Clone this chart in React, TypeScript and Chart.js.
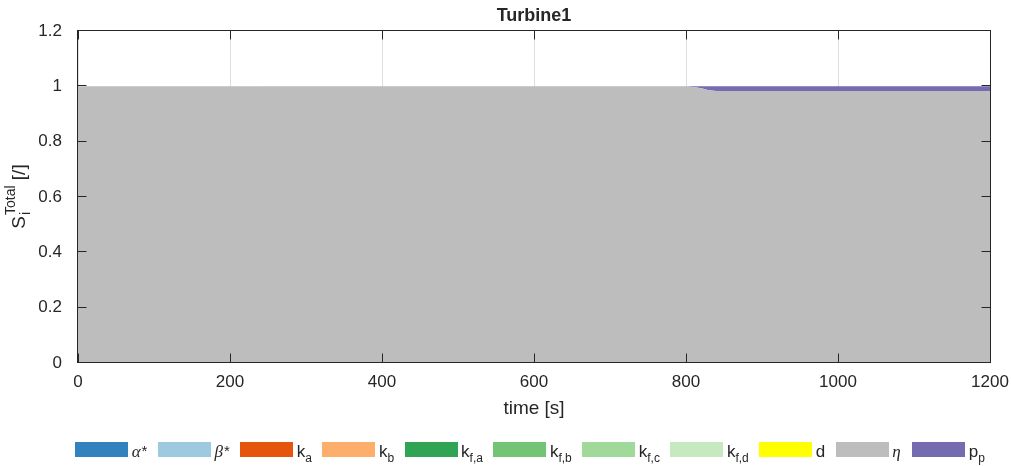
import React, { useEffect, useRef } from 'react';
import { Chart, registerables } from 'chart.js';

Chart.register(...registerables);

// ---- data ----
const time = [0, 100, 200, 250, 300, 400, 500, 600, 700, 800, 810, 820, 830, 840, 850, 900, 1000, 1100, 1200];
const alphaStar = [0, 0, 0, 0, 0, 0, 0, 0, 0, 0, 0, 0, 0, 0, 0, 0, 0, 0, 0];
const betaStar = [0, 0, 0, 0, 0, 0, 0, 0, 0, 0, 0, 0, 0, 0, 0, 0, 0, 0, 0];
const kA = [0, 0, 0, 0, 0, 0, 0, 0, 0, 0, 0, 0, 0, 0, 0, 0, 0, 0, 0];
const kB = [0, 0, 0, 0, 0, 0, 0, 0, 0, 0, 0, 0, 0, 0, 0, 0, 0, 0, 0];
const kFA = [0, 0, 0, 0, 0, 0, 0, 0, 0, 0, 0, 0, 0, 0, 0, 0, 0, 0, 0];
const kFB = [0, 0, 0, 0, 0, 0, 0, 0, 0, 0, 0, 0, 0, 0, 0, 0, 0, 0, 0];
const kFC = [0, 0, 0, 0, 0, 0, 0, 0, 0, 0, 0, 0, 0, 0, 0, 0, 0, 0, 0];
const kFD = [0, 0, 0, 0, 0, 0, 0, 0, 0, 0, 0, 0, 0, 0, 0, 0, 0, 0, 0];
const dVals = [0, 0, 0, 0, 0, 0, 0, 0, 0, 0, 0, 0, 0, 0, 0, 0, 0, 0, 0];
const eta = [1, 1, 1, 0.999, 0.999, 0.999, 0.999, 0.999, 0.999, 0.999, 0.998, 0.993, 0.986, 0.983, 0.983, 0.983, 0.983, 0.983, 0.983];
const pP = [0, 0, 0, 0.001, 0.001, 0.001, 0.001, 0.001, 0.001, 0.001, 0.002, 0.007, 0.014, 0.017, 0.017, 0.017, 0.017, 0.017, 0.017];

const seriesValues = [alphaStar, betaStar, kA, kB, kFA, kFB, kFC, kFD, dVals, eta, pP];
const seriesLabels = ['α*', 'β*', 'k_a', 'k_b', 'k_f,a', 'k_f,b', 'k_f,c', 'k_f,d', 'd', 'η', 'p_p'];
const seriesColors = ['#3182bd', '#9ecae1', '#e6550d', '#fdae6b', '#31a354', '#74c476', '#a1d99b', '#c7e9c0', '#ffff00', '#bdbdbd', '#756bb1'];

const xTicks = [0, 200, 400, 600, 800, 1000, 1200];
const yTicks = [0, 0.2, 0.4, 0.6, 0.8, 1, 1.2];
const titleText = 'Turbine1';
const xLabelText = 'time [s]';
const yLabelMain = 'S';
const yLabelSub = 'i';
const yLabelSup = 'Total';
const yLabelTail = ' [/]';

const SANS = '"Liberation Sans", Arial, Helvetica, sans-serif';
const SERIF = '"Liberation Serif", "Times New Roman", serif';
const TEXT = '#262626';

function drawLegendLabel(ctx: CanvasRenderingContext2D, label: string, x: number, baseline: number, draw: boolean): number {
  let w = 0;
  const greek = /^[αβη]/.test(label);
  if (greek) {
    ctx.font = `italic 17px ${SERIF}`;
    const g = label[0];
    if (draw) ctx.fillText(g, x, baseline);
    w += ctx.measureText(g).width + 1;
    const rest = label.slice(1);
    if (rest) {
      ctx.font = `15px ${SANS}`;
      if (draw) ctx.fillText(rest, x + w, baseline - 1);
      w += ctx.measureText(rest).width;
    }
    return w;
  }
  const parts = label.split('_');
  ctx.font = `17px ${SANS}`;
  if (draw) ctx.fillText(parts[0], x, baseline);
  w += ctx.measureText(parts[0]).width;
  if (parts[1]) {
    ctx.font = `12px ${SANS}`;
    if (draw) ctx.fillText(parts[1], x + w, baseline + 5);
    w += ctx.measureText(parts[1]).width;
  }
  return w;
}

const decorPlugin = {
  id: 'decor',
  afterDatasetsDraw(chart: any) {
    const { ctx, chartArea: a, scales } = chart;
    ctx.save();
    ctx.strokeStyle = TEXT;
    ctx.lineWidth = 1;
    const L = Math.round(a.left) - 0.5;
    const R = Math.round(a.right) + 0.5;
    const T = Math.round(a.top) - 0.5;
    const B = Math.round(a.bottom) - 0.5;
    const tl = 9;
    ctx.beginPath();
    xTicks.forEach((v) => {
      const px = Math.round(scales.x.getPixelForValue(v)) + 0.5;
      ctx.moveTo(px, B);
      ctx.lineTo(px, B - tl);
      ctx.moveTo(px, T);
      ctx.lineTo(px, T + tl);
    });
    yTicks.forEach((v) => {
      const py = Math.round(scales.y.getPixelForValue(v)) - 0.5;
      ctx.moveTo(L, py);
      ctx.lineTo(L + tl, py);
      ctx.moveTo(R, py);
      ctx.lineTo(R - tl, py);
    });
    ctx.stroke();
    ctx.strokeRect(L, T, R - L, B - T);
    ctx.restore();
  },
  afterDraw(chart: any) {
    const { ctx, chartArea: a } = chart;
    ctx.save();
    ctx.fillStyle = TEXT;
    ctx.textBaseline = 'alphabetic';
    // title
    ctx.font = `bold 18px ${SANS}`;
    ctx.textAlign = 'center';
    ctx.fillText(titleText, (a.left + a.right) / 2, 21);
    // x label
    ctx.font = `19px ${SANS}`;
    ctx.fillText(xLabelText, (a.left + a.right) / 2, 414);
    // y label (rotated)
    ctx.textAlign = 'left';
    ctx.font = `19px ${SANS}`;
    const wMain = ctx.measureText(yLabelMain).width;
    ctx.font = `14px ${SANS}`;
    const wSub = ctx.measureText(yLabelSub).width;
    const wSup = ctx.measureText(yLabelSup).width;
    ctx.font = `19px ${SANS}`;
    const wTail = ctx.measureText(yLabelTail).width;
    const total = wMain + Math.max(wSub, wSup) + wTail;
    ctx.translate(25, (a.top + a.bottom) / 2);
    ctx.rotate(-Math.PI / 2);
    let x = -total / 2;
    ctx.font = `19px ${SANS}`;
    ctx.fillText(yLabelMain, x, 0);
    x += wMain + 1;
    ctx.font = `14px ${SANS}`;
    ctx.fillText(yLabelSub, x, 5);
    ctx.fillText(yLabelSup, x, -10);
    x += Math.max(wSub, wSup);
    ctx.font = `19px ${SANS}`;
    ctx.fillText(yLabelTail, x, 0);
    ctx.restore();

    // legend
    ctx.save();
    ctx.fillStyle = TEXT;
    ctx.textAlign = 'left';
    ctx.textBaseline = 'alphabetic';
    const boxW = 53;
    const boxH = 15;
    const gapText = 3.5;
    const gapItem = 10.5;
    const widths = seriesLabels.map((l) => boxW + gapText + drawLegendLabel(ctx, l, 0, 0, false));
    const totalW = widths.reduce((s, w) => s + w, 0) + gapItem * (widths.length - 1);
    let lx = 530 - totalW / 2;
    const boxTop = 442;
    const baseline = 456.5;
    seriesLabels.forEach((l, i) => {
      ctx.fillStyle = seriesColors[i];
      ctx.fillRect(Math.round(lx), boxTop, boxW, boxH);
      ctx.fillStyle = TEXT;
      drawLegendLabel(ctx, l, lx + boxW + gapText, baseline, true);
      lx += widths[i] + gapItem;
    });
    ctx.restore();
  },
};

export default function App() {
  const canvasRef = useRef<HTMLCanvasElement | null>(null);

  useEffect(() => {
    const canvas = canvasRef.current;
    if (!canvas) return;
    const datasets = seriesValues.map((vals, i) => ({
      label: seriesLabels[i],
      data: time.map((t, j) => ({ x: t, y: vals[j] })),
      backgroundColor: seriesColors[i],
      borderColor: seriesColors[i],
      borderWidth: 0,
      pointRadius: 0,
      tension: 0,
      fill: i === 0 ? 'origin' : '-1',
    }));
    const chart = new Chart(canvas, {
      type: 'line',
      data: { datasets },
      options: {
        animation: false,
        responsive: false,
        devicePixelRatio: 1,
        layout: { padding: { left: 0, top: 31, right: 21, bottom: 0 } },
        plugins: {
          legend: { display: false },
          title: { display: false },
          tooltip: { enabled: false },
        },
        scales: {
          x: {
            type: 'linear',
            min: 0,
            max: 1200,
            afterBuildTicks: (s: any) => {
              s.ticks = xTicks.map((v) => ({ value: v }));
            },
            afterFit: (s: any) => {
              s.height = 103;
              s.paddingLeft = 0;
              s.paddingRight = 0;
            },
            grid: { color: '#dedede', drawTicks: false, lineWidth: 1 },
            border: { display: false },
            ticks: {
              color: TEXT,
              font: { family: SANS, size: 17 },
              padding: 9,
              maxRotation: 0,
              autoSkip: false,
              callback: (v: any) => String(v),
            },
          },
          y: {
            type: 'linear',
            stacked: true,
            min: 0,
            max: 1.2,
            afterBuildTicks: (s: any) => {
              s.ticks = yTicks.map((v) => ({ value: v }));
            },
            afterFit: (s: any) => {
              s.width = 78;
              s.paddingTop = 0;
              s.paddingBottom = 0;
            },
            grid: { display: false },
            border: { display: false },
            ticks: {
              color: TEXT,
              font: { family: SANS, size: 17 },
              padding: 8,
              autoSkip: false,
              callback: (v: any) => String(v),
            },
          },
        },
      },
      plugins: [decorPlugin],
    } as any);
    return () => chart.destroy();
  }, []);

  return (
    <div style={{ position: 'fixed', left: 0, top: 0, width: 1011, height: 466, background: '#fff' }}>
      <canvas ref={canvasRef} width={1011} height={466} style={{ display: 'block' }} />
    </div>
  );
}
